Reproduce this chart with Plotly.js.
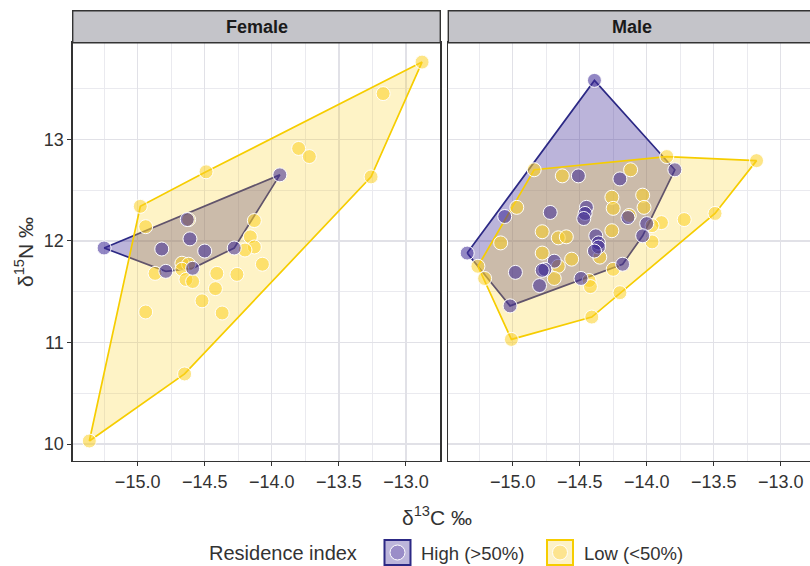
<!DOCTYPE html>
<html>
<head>
<meta charset="utf-8">
<script src="https://cdn.plot.ly/plotly-3.0.1.min.js"></script>
<style>html,body{margin:0;padding:0;background:#fff;}#chart{width:810px;height:566px;}</style>
</head>
<body>
<div id="chart"></div>
<script>
// ---------- data ----------
const panels = ["Female", "Male"];
const groups = ["High (>50%)", "Low (<50%)"];

const femaleHighX = [-13.94, -15.25, -14.63, -14.61, -14.82, -14.50, -14.28, -14.59, -14.79];
const femaleHighY = [12.65, 11.93, 12.21, 12.02, 11.92, 11.90, 11.93, 11.73, 11.70];

const femaleLowX = [-12.88, -13.17, -13.80, -13.72, -13.26, -14.49, -14.98, -14.94, -14.62, -14.13,
                    -14.16, -14.13, -14.20, -14.07, -14.87, -14.67, -14.62, -14.67, -14.64, -14.59,
                    -14.41, -14.26, -14.42, -14.52, -14.37, -14.94, -14.65, -15.36];
const femaleLowY = [13.76, 13.45, 12.91, 12.83, 12.63, 12.68, 12.34, 12.14, 12.21, 12.20,
                    12.04, 11.94, 11.91, 11.77, 11.68, 11.78, 11.77, 11.72, 11.62, 11.60,
                    11.68, 11.67, 11.53, 11.41, 11.29, 11.30, 10.69, 10.03];

const maleHighX = [-14.39, -13.79, -15.34, -15.02, -14.51, -14.20, -15.06, -14.72, -14.45, -14.46,
                   -14.47, -14.14, -14.00, -14.03, -14.38, -14.36, -14.36, -14.39, -14.98, -14.69,
                   -14.76, -14.78, -14.80, -14.49, -14.18];
const maleHighY = [13.58, 12.70, 11.88, 11.36, 12.64, 12.61, 12.24, 12.28, 12.33, 12.27,
                   12.22, 12.23, 12.17, 12.05, 12.05, 11.98, 11.94, 11.90, 11.69, 11.80,
                   11.72, 11.71, 11.56, 11.63, 11.77];

const maleLowX = [-13.85, -13.18, -14.84, -14.63, -14.12, -14.97, -14.26, -14.25, -14.03, -14.02,
                  -14.13, -13.89, -13.96, -13.72, -13.49, -14.78, -14.66, -14.60, -14.26, -15.09,
                  -13.96, -14.78, -14.56, -14.35, -14.66, -14.69, -14.25, -15.26, -15.21, -14.43,
                  -14.42, -14.20, -14.41, -15.01];
const maleLowY = [12.83, 12.79, 12.70, 12.64, 12.70, 12.33, 12.43, 12.32, 12.45, 12.33,
                  12.25, 12.18, 12.15, 12.21, 12.27, 12.09, 12.03, 12.04, 12.10, 11.98,
                  11.99, 11.88, 11.82, 11.84, 11.75, 11.63, 11.72, 11.75, 11.63, 11.61,
                  11.55, 11.49, 11.25, 11.03];

const xTitle = "δ<sup>13</sup>C ‰";
const yTitle = "δ<sup>15</sup>N ‰";
const legendTitle = "Residence index";

// ---------- helpers ----------
const W = 810, H = 566;
const px = x => x / W;
const py = y => (H - y) / H;

function hull(xs, ys) {
  const pts = xs.map((x, i) => [x, ys[i]]).sort((a, b) => a[0] - b[0] || a[1] - b[1]);
  const cross = (o, a, b) => (a[0] - o[0]) * (b[1] - o[1]) - (a[1] - o[1]) * (b[0] - o[0]);
  const lower = [], upper = [];
  for (const p of pts) {
    while (lower.length >= 2 && cross(lower[lower.length - 2], lower[lower.length - 1], p) <= 0) lower.pop();
    lower.push(p);
  }
  for (let i = pts.length - 1; i >= 0; i--) {
    const p = pts[i];
    while (upper.length >= 2 && cross(upper[upper.length - 2], upper[upper.length - 1], p) <= 0) upper.pop();
    upper.push(p);
  }
  upper.pop(); lower.pop();
  const h = lower.concat(upper);
  h.push(h[0]);
  return {x: h.map(p => p[0]), y: h.map(p => p[1])};
}

const purple = {fill: "rgba(61,41,149,0.35)", line: "#2c2985", pt: "rgba(61,41,149,0.56)"};
const yellow = {fill: "rgba(251,207,35,0.26)", line: "#f6cd00", pt: "rgba(251,207,35,0.55)"};

function hullTrace(xs, ys, col, xa, ya) {
  const h = hull(xs, ys);
  return {type: "scatter", mode: "lines", x: h.x, y: h.y, fill: "toself",
          fillcolor: col.fill, line: {color: col.line, width: 1.7},
          xaxis: xa, yaxis: ya, hoverinfo: "skip", showlegend: false};
}
function pointTrace(xs, ys, col, xa, ya, name) {
  return {type: "scatter", mode: "markers", x: xs, y: ys, name: name,
          marker: {size: 14, color: col.pt, line: {color: "#ffffff", width: 1}},
          xaxis: xa, yaxis: ya, hoverinfo: "skip", showlegend: false};
}

const data = [
  hullTrace(femaleHighX, femaleHighY, purple, "x", "y"),
  hullTrace(femaleLowX, femaleLowY, yellow, "x", "y"),
  pointTrace(femaleLowX, femaleLowY, yellow, "x", "y", groups[1]),
  pointTrace(femaleHighX, femaleHighY, purple, "x", "y", groups[0]),
  hullTrace(maleHighX, maleHighY, purple, "x2", "y2"),
  hullTrace(maleLowX, maleLowY, yellow, "x2", "y2"),
  pointTrace(maleLowX, maleLowY, yellow, "x2", "y2", groups[1]),
  pointTrace(maleHighX, maleHighY, purple, "x2", "y2", groups[0])
];

const tickFont = {family: "Liberation Sans, Arial, sans-serif", size: 18, color: "#333333"};
const grid = {showgrid: true, gridcolor: "#e1e1e7", gridwidth: 1.3, zeroline: false};
const minorX = {dtick: 0.25, tick0: -15.25, showgrid: true, gridcolor: "#eaeaef", gridwidth: 1, ticks: ""};
const minorY = {dtick: 0.5, tick0: 9.5, showgrid: true, gridcolor: "#eaeaef", gridwidth: 1, ticks: ""};

const yDomain = [py(461), py(42.7)];
const yRange = [9.833, 13.951];

const layout = {
  width: W, height: H,
  margin: {l: 0, r: 0, t: 0, b: 0, pad: 0},
  paper_bgcolor: "#ffffff", plot_bgcolor: "#ffffff",
  font: {family: "Liberation Sans, Arial, sans-serif", color: "#333333"},
  showlegend: false,
  xaxis: Object.assign({}, grid, {
    domain: [px(72.7), px(440.3)], range: [-15.484, -12.744], anchor: "y",
    dtick: 0.5, tick0: -15, tickformat: ".1f", minor: minorX,
    showline: true, linecolor: "#333333", linewidth: 1.4, mirror: true,
    ticks: "outside", ticklen: 4, tickcolor: "#333333", tickwidth: 1, tickfont: tickFont
  }),
  xaxis2: Object.assign({}, grid, {
    domain: [px(448.3), 1], range: [-15.481, -12.781], anchor: "y2",
    dtick: 0.5, tick0: -15, tickformat: ".1f", minor: minorX,
    showline: true, linecolor: "#333333", linewidth: 1.4, mirror: true,
    ticks: "outside", ticklen: 4, tickcolor: "#333333", tickwidth: 1, tickfont: tickFont
  }),
  yaxis: Object.assign({}, grid, {
    domain: yDomain, range: yRange, anchor: "x",
    dtick: 1, tick0: 10, minor: minorY,
    showline: true, linecolor: "#333333", linewidth: 1.4, mirror: true,
    ticks: "outside", ticklen: 4, tickcolor: "#333333", tickwidth: 1, tickfont: tickFont
  }),
  yaxis2: Object.assign({}, grid, {
    domain: yDomain, range: yRange, anchor: "x2",
    dtick: 1, tick0: 10, minor: minorY,
    showline: true, linecolor: "#333333", linewidth: 1.4, mirror: false,
    ticks: "", showticklabels: false
  }),
  shapes: [
    {type: "rect", xref: "paper", yref: "paper", x0: px(72.7), x1: px(440.3), y0: py(42.7), y1: py(10.7),
     fillcolor: "#c4c4c9", line: {color: "#333333", width: 1.4}},
    {type: "rect", xref: "paper", yref: "paper", x0: px(448.3), x1: px(830), y0: py(42.7), y1: py(10.7),
     fillcolor: "#c4c4c9", line: {color: "#333333", width: 1.4}},
    // legend keys
    {type: "rect", xref: "paper", yref: "paper", x0: px(384.5), x1: px(410.5), y0: py(565), y1: py(540),
     fillcolor: "#bcb5db", line: {color: "#2c2985", width: 2}},
    {type: "circle", xref: "paper", yref: "paper", x0: px(390), x1: px(405), y0: py(560), y1: py(545),
     fillcolor: "#9a8dc8", line: {color: "#ffffff", width: 1}},
    {type: "rect", xref: "paper", yref: "paper", x0: px(547), x1: px(573), y0: py(565), y1: py(540),
     fillcolor: "#fdf2c8", line: {color: "#f6cd00", width: 2}},
    {type: "circle", xref: "paper", yref: "paper", x0: px(552.5), x1: px(567.5), y0: py(560), y1: py(545),
     fillcolor: "#fde48f", line: {color: "#ffffff", width: 1}}
  ],
  annotations: [
    {text: "<b>" + panels[0] + "</b>", xref: "paper", yref: "paper", x: px(256.5), y: py(27),
     showarrow: false, font: {size: 18, color: "#1a1a1a"}, xanchor: "center", yanchor: "middle"},
    {text: "<b>" + panels[1] + "</b>", xref: "paper", yref: "paper", x: px(632), y: py(27),
     showarrow: false, font: {size: 18, color: "#1a1a1a"}, xanchor: "center", yanchor: "middle"},
    {text: xTitle, xref: "paper", yref: "paper", x: px(437), y: py(516),
     showarrow: false, font: {size: 21, color: "#333333"}, xanchor: "center", yanchor: "middle"},
    {text: yTitle, xref: "paper", yref: "paper", x: px(24), y: py(252), textangle: -90,
     showarrow: false, font: {size: 21, color: "#333333"}, xanchor: "center", yanchor: "middle"},
    {text: legendTitle, xref: "paper", yref: "paper", x: px(207), y: py(553),
     showarrow: false, font: {size: 20, color: "#333333"}, xanchor: "left", yanchor: "middle"},
    {text: groups[0], xref: "paper", yref: "paper", x: px(419), y: py(553),
     showarrow: false, font: {size: 18.5, color: "#333333"}, xanchor: "left", yanchor: "middle"},
    {text: groups[1], xref: "paper", yref: "paper", x: px(582), y: py(553),
     showarrow: false, font: {size: 18.5, color: "#333333"}, xanchor: "left", yanchor: "middle"}
  ]
};

Plotly.newPlot("chart", data, layout, {staticPlot: true, displayModeBar: false});
</script>
</body>
</html>
